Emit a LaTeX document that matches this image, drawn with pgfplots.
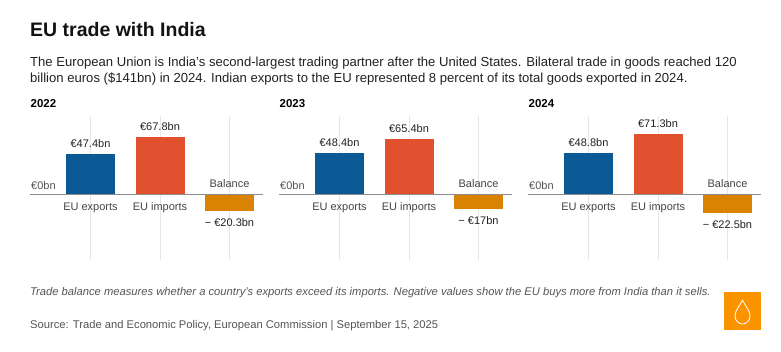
\documentclass[border=0pt]{standalone}
\usepackage{pgfplots}
\pgfplotsset{compat=1.18}
\usepackage{fontspec}
\setmainfont{Liberation Sans}
\definecolor{cexp}{HTML}{0B5A96}
\definecolor{cimp}{HTML}{E1502F}
\definecolor{cbal}{HTML}{D98204}
\definecolor{cgrid}{HTML}{E6E6E6}
\definecolor{czero}{HTML}{8C8C8C}
\definecolor{clogo}{HTML}{FA9300}
\definecolor{ctxt}{HTML}{222222}
\definecolor{ccat}{HTML}{444444}
\definecolor{cfoot}{HTML}{555555}
\newcommand\fs[1]{\fontsize{#1bp}{#1bp}\selectfont}

\newcommand\panel[8]{%
\begin{axis}[at={(#1bp,92bp)}, anchor=south west, scale only axis,
 width=233bp, height=144bp,
 xmin=-0.8705, xmax=2.482, ymin=-78, ymax=92.6,
 axis line style={draw=none}, tick style={draw=none},
 xtick={0,1,2}, xticklabels={}, ytick=\empty,
 xmajorgrids, major grid style={cgrid, line width=1bp},
 ybar, bar width=49bp, clip=false,
 point meta=explicit symbolic,
 nodes near coords,
 every node near coord/.append style={font=\fs{11}, text=ctxt, inner sep=0pt},
]
\addplot[fill=cexp, draw=none, bar shift=0pt, every node near coord/.append style={anchor=base, yshift=6.5bp}] coordinates {(0,#3) [#6]};
\addplot[fill=cimp, draw=none, bar shift=0pt, every node near coord/.append style={anchor=base, yshift=6.5bp}] coordinates {(1,#4) [#7]};
\addplot[fill=cbal, draw=none, bar shift=0pt, every node near coord/.append style={anchor=north, yshift=-7.5bp}] coordinates {(2,#5) [#8]};
\draw[czero, line width=1.3bp] (axis cs:-0.8705,0) -- (axis cs:2.482,0);
\node[anchor=base, inner sep=0pt, font=\fs{11}, text=ccat, yshift=-16.7bp] at (axis cs:0,0) {EU exports};
\node[anchor=base, inner sep=0pt, font=\fs{11}, text=ccat, yshift=-16.7bp] at (axis cs:1,0) {EU imports};
\node[anchor=base, inner sep=0pt, font=\fs{11}, text=ccat, yshift=6.3bp] at (axis cs:2,0) {Balance};
\node[anchor=base west, inner sep=0pt, font=\fs{11}, text=cfoot, yshift=5bp, xshift=1bp] at (axis cs:-0.8705,0) {€0bn};
\node[anchor=base west, inner sep=0pt, font=\bfseries\fs{11.5}, text=black, yshift=86.5bp, xshift=0.5bp] at (axis cs:-0.8705,0) {#2};
\end{axis}}

\begin{document}
\begin{tikzpicture}
\path[use as bounding box, fill=white] (0,0) rectangle (781bp,352bp);
\node[anchor=base west, inner sep=0pt, font=\bfseries\fs{19.5}, text=black!93] at (30bp,315bp) {EU trade with India};
\node[anchor=base west, inner sep=0pt, font=\fs{13.1}, text=ctxt] at (30bp,285bp) {The European Union is India’s second-largest trading partner after the United States. Bilateral trade in goods reached 120};
\node[anchor=base west, inner sep=0pt, font=\fs{13.1}, text=ctxt] at (30bp,269bp) {billion euros (\$141bn) in 2024. Indian exports to the EU represented 8 percent of its total goods exported in 2024.};
\panel{30}{2022}{47.4}{67.8}{-20.3}{€47.4bn}{€67.8bn}{− €20.3bn}
\panel{279}{2023}{48.4}{65.4}{-17}{€48.4bn}{€65.4bn}{− €17bn}
\panel{528}{2024}{48.8}{71.3}{-22.5}{€48.8bn}{€71.3bn}{− €22.5bn}
\node[anchor=base west, inner sep=0pt, font=\itshape\fs{11.2}, text=cfoot] at (30bp,56bp) {Trade balance measures whether a country’s exports exceed its imports. Negative values show the EU buys more from India than it sells.};
\node[anchor=base west, inner sep=0pt, font=\fs{11.2}, text=cfoot] at (30bp,23.7bp) {Source: Trade and Economic Policy, European Commission | September 15, 2025};
\fill[clogo] (724bp,22bp) rectangle (761bp,60bp);
\draw[white, line width=0.8bp] (742.5bp,52bp) .. controls (740bp,46bp) and (735bp,42bp) .. (735bp,36bp) .. controls (735bp,31bp) and (739bp,28bp) .. (742.5bp,28bp) .. controls (746bp,28bp) and (750bp,31bp) .. (750bp,36bp) .. controls (750bp,42bp) and (745bp,46bp) .. (742.5bp,52bp);
\end{tikzpicture}
\end{document}
